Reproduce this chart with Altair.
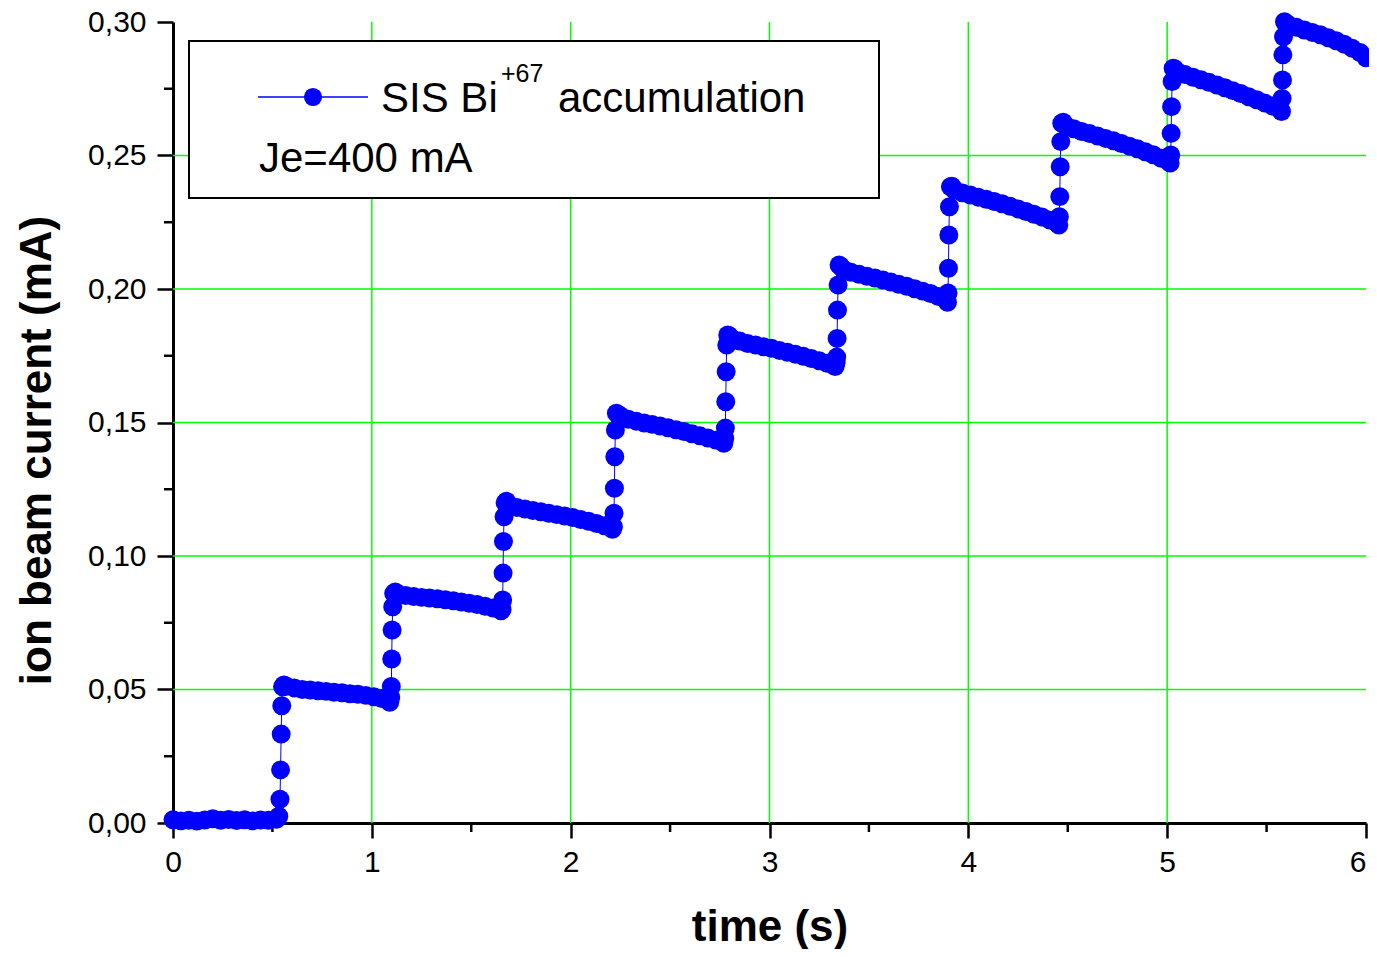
import altair as alt
import pandas as pd

# ---------------- data ----------------
# flat (accumulation) segments
seg_t = [
    [0.00, 0.04, 0.08, 0.12, 0.16, 0.20, 0.24, 0.28, 0.32, 0.36, 0.40, 0.44, 0.48, 0.52],
    [0.57, 0.61, 0.65, 0.69, 0.73, 0.77, 0.81, 0.85, 0.89, 0.93, 0.97, 1.01, 1.05, 1.09],
    [1.13, 1.17, 1.21, 1.25, 1.29, 1.33, 1.37, 1.41, 1.45, 1.49, 1.53, 1.57, 1.61, 1.65],
    [1.69, 1.73, 1.77, 1.81, 1.85, 1.89, 1.93, 1.97, 2.01, 2.05, 2.09, 2.13, 2.17, 2.21],
    [2.25, 2.29, 2.33, 2.37, 2.41, 2.45, 2.49, 2.53, 2.57, 2.61, 2.65, 2.69, 2.73, 2.77],
    [2.81, 2.85, 2.89, 2.93, 2.97, 3.01, 3.05, 3.09, 3.13, 3.17, 3.21, 3.25, 3.29, 3.33],
    [3.37, 3.41, 3.45, 3.49, 3.53, 3.57, 3.61, 3.65, 3.69, 3.73, 3.77, 3.81, 3.85, 3.89],
    [3.93, 3.97, 4.01, 4.05, 4.09, 4.13, 4.17, 4.21, 4.25, 4.29, 4.33, 4.37, 4.41, 4.45],
    [4.49, 4.53, 4.57, 4.61, 4.65, 4.69, 4.73, 4.77, 4.81, 4.85, 4.89, 4.93, 4.97, 5.01],
    [5.05, 5.09, 5.13, 5.17, 5.21, 5.25, 5.29, 5.33, 5.37, 5.41, 5.45, 5.49, 5.53, 5.57],
    [5.61, 5.65, 5.69, 5.73, 5.77, 5.81, 5.85, 5.89, 5.93, 5.97, 6.00],
]
seg_i = [
    [0.0012, 0.0008, 0.0010, 0.0007, 0.0011, 0.0016, 0.0010, 0.0013, 0.0009, 0.0012, 0.0008, 0.0011, 0.0010, 0.0014],
    [0.0512, 0.0506, 0.0500, 0.0498, 0.0495, 0.0493, 0.0490, 0.0488, 0.0484, 0.0482, 0.0478, 0.0473, 0.0466, 0.0452],
    [0.0858, 0.0852, 0.0848, 0.0845, 0.0843, 0.0840, 0.0836, 0.0832, 0.0828, 0.0823, 0.0818, 0.0812, 0.0805, 0.0795],
    [0.1190, 0.1182, 0.1176, 0.1170, 0.1166, 0.1160, 0.1155, 0.1150, 0.1144, 0.1137, 0.1130, 0.1122, 0.1113, 0.1100],
    [0.1525, 0.1512, 0.1505, 0.1498, 0.1493, 0.1487, 0.1480, 0.1473, 0.1466, 0.1458, 0.1450, 0.1442, 0.1434, 0.1422],
    [0.1815, 0.1805, 0.1796, 0.1790, 0.1784, 0.1778, 0.1770, 0.1763, 0.1756, 0.1748, 0.1740, 0.1731, 0.1722, 0.1710],
    [0.2075, 0.2063, 0.2055, 0.2048, 0.2041, 0.2034, 0.2026, 0.2018, 0.2010, 0.2001, 0.1992, 0.1983, 0.1972, 0.1960],
    [0.2372, 0.2360, 0.2352, 0.2344, 0.2336, 0.2328, 0.2319, 0.2310, 0.2300, 0.2290, 0.2280, 0.2270, 0.2258, 0.2245],
    [0.2612, 0.2600, 0.2590, 0.2582, 0.2573, 0.2564, 0.2555, 0.2545, 0.2535, 0.2525, 0.2514, 0.2503, 0.2490, 0.2476],
    [0.2815, 0.2803, 0.2793, 0.2784, 0.2774, 0.2764, 0.2754, 0.2743, 0.2732, 0.2720, 0.2709, 0.2697, 0.2685, 0.2670],
    [0.2990, 0.2980, 0.2970, 0.2961, 0.2952, 0.2941, 0.2930, 0.2917, 0.2902, 0.2886, 0.2866],
]
# injection steps (rising edges)
rise_t = [
    [0.532, 0.538, 0.541, 0.544, 0.547, 0.551, 0.558],
    [1.095, 1.098, 1.100, 1.102, 1.105, 1.110, 1.118],
    [1.655, 1.658, 1.660, 1.662, 1.665, 1.670, 1.677],
    [2.215, 2.218, 2.220, 2.222, 2.225, 2.230, 2.237],
    [2.775, 2.778, 2.780, 2.782, 2.785, 2.790, 2.797],
    [3.335, 3.338, 3.340, 3.342, 3.345, 3.350, 3.357],
    [3.895, 3.898, 3.900, 3.902, 3.905, 3.910, 3.917],
    [4.455, 4.458, 4.460, 4.462, 4.465, 4.470, 4.477],
    [5.015, 5.018, 5.020, 5.022, 5.025, 5.030, 5.037],
    [5.575, 5.578, 5.580, 5.582, 5.585, 5.590, 5.597],
]
rise_i = [
    [0.0025, 0.0089, 0.0199, 0.0333, 0.0439, 0.0510, 0.0517],
    [0.0470, 0.0511, 0.0614, 0.0723, 0.0810, 0.0860, 0.0865],
    [0.0800, 0.0835, 0.0936, 0.1054, 0.1147, 0.1199, 0.1205],
    [0.1110, 0.1160, 0.1254, 0.1372, 0.1472, 0.1535, 0.1530],
    [0.1440, 0.1479, 0.1578, 0.1690, 0.1790, 0.1828, 0.1825],
    [0.1725, 0.1745, 0.1815, 0.1921, 0.2015, 0.2090, 0.2085],
    [0.1950, 0.1985, 0.2078, 0.2202, 0.2308, 0.2383, 0.2385],
    [0.2240, 0.2271, 0.2346, 0.2458, 0.2552, 0.2621, 0.2625],
    [0.2472, 0.2502, 0.2583, 0.2683, 0.2777, 0.2827, 0.2825],
    [0.2665, 0.2714, 0.2783, 0.2877, 0.2945, 0.3001, 0.2995],
]

x_major = [0, 1, 2, 3, 4, 5, 6]
x_minor = [0.5, 1.5, 2.5, 3.5, 4.5, 5.5]
y_major = [0.00, 0.05, 0.10, 0.15, 0.20, 0.25, 0.30]
y_minor = [0.025, 0.075, 0.125, 0.175, 0.225, 0.275]
grid_x = [1, 2, 3, 4, 5]
grid_y = [0.05, 0.10, 0.15, 0.20, 0.25]

# ---------------- assemble ----------------
times, currents = [], []
for k in range(len(seg_t)):
    times += seg_t[k]
    currents += seg_i[k]
    if k < len(rise_t):
        times += rise_t[k]
        currents += rise_i[k]
df = pd.DataFrame({"time": times, "current": currents})

W, H = 1193, 801
FONT = "Liberation Sans"
BLUE = "#0000ff"
GREEN = "#00ff00"

xscale = alt.Scale(domain=[0, 6], nice=False, zero=False)
yscale = alt.Scale(domain=[0, 0.30], nice=False, zero=False)

xaxis = alt.Axis(title="time (s)", values=x_major, format="d", labelFlush=False,
                 labelAlign=alt.ExprRef(expr="datum.value == 6 ? 'right' : 'center'"),
                 titleY=117, titleBaseline="alphabetic")
yaxis = alt.Axis(title="ion beam current (mA)", values=y_major, labelFlush=False,
                 labelExpr="replace(format(datum.value, '.2f'), '.', ',')",
                 titleX=-123, titleY=428, titleBaseline="alphabetic", titleAngle=-90)

one = pd.DataFrame({"k": [0]})

gx = alt.Chart(pd.DataFrame({"time": grid_x})).mark_rule(color=GREEN, strokeWidth=1.5).encode(
    x=alt.X("time:Q", scale=xscale, axis=xaxis))
gy = alt.Chart(pd.DataFrame({"current": grid_y})).mark_rule(color=GREEN, strokeWidth=1.5).encode(
    y=alt.Y("current:Q", scale=yscale, axis=yaxis))

mx = alt.Chart(pd.DataFrame({"time": x_minor})).mark_rule(color="black", strokeWidth=2.5).encode(
    x=alt.X("time:Q", scale=xscale, axis=xaxis), y=alt.value(H), y2=alt.value(H + 9))
my = alt.Chart(pd.DataFrame({"current": y_minor})).mark_rule(color="black", strokeWidth=2.5).encode(
    y=alt.Y("current:Q", scale=yscale, axis=yaxis), x=alt.value(0), x2=alt.value(-9))

base = alt.Chart(df).encode(
    x=alt.X("time:Q", scale=xscale, axis=xaxis),
    y=alt.Y("current:Q", scale=yscale, axis=yaxis),
)
line = base.mark_line(color=BLUE, strokeWidth=1)
pts = base.mark_circle(color=BLUE, size=360, opacity=1)

box = alt.Chart(one).mark_rect(fill="white", stroke="black", strokeWidth=2).encode(
    x=alt.value(16), x2=alt.value(706), y=alt.value(19), y2=alt.value(176))
leg_line = alt.Chart(one).mark_rule(color=BLUE, strokeWidth=1.5).encode(
    x=alt.value(85), x2=alt.value(195), y=alt.value(75))
leg_pt = alt.Chart(one).mark_circle(color=BLUE, size=330, opacity=1).encode(
    x=alt.value(140), y=alt.value(75))


def txt(s, x, y, size):
    return alt.Chart(one).mark_text(text=s, align="left", baseline="alphabetic",
                                    font=FONT, fontSize=size, color="black").encode(
        x=alt.value(x), y=alt.value(y))


t1 = txt("SIS Bi", 208, 90, 42)
t2 = txt("+67", 328, 60, 25)
t3 = txt("accumulation", 385, 90, 42)
t4 = txt("Je=400 mA", 86, 150, 42)

chart = alt.layer(gx, gy, mx, my, line, pts, box, leg_line, leg_pt, t1, t2, t3, t4).properties(
    width=W, height=H,
    autosize=alt.AutoSizeParams(type="none"),
    padding={"left": 165, "top": 14, "right": 3, "bottom": 126},
).configure_view(stroke=None).configure_axis(
    grid=False, domainColor="black", domainWidth=3, tickColor="black", tickWidth=2.5,
    tickSize=15, labelFont=FONT, labelFontSize=30, labelColor="black", labelPadding=9,
    titleFont=FONT, titleFontSize=44, titleFontWeight="bold", titleColor="black",
).configure_axisY(labelPadding=11, tickSize=16)

chart.save("out.html", embed_options={"renderer": "svg", "actions": False})
